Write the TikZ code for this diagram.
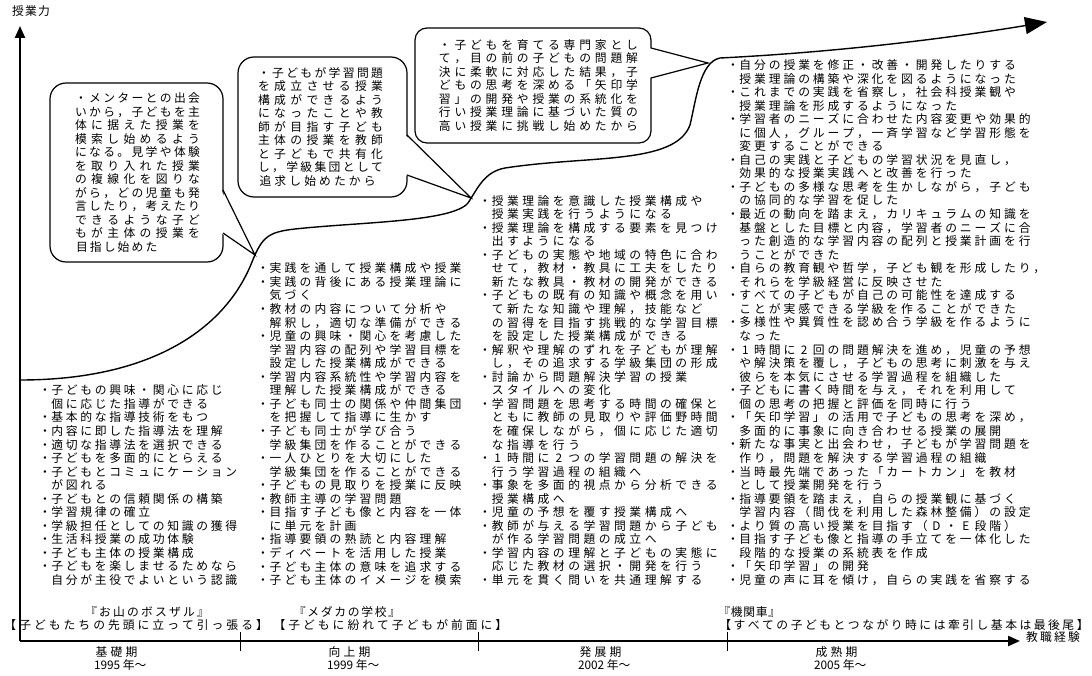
\documentclass[tikz,border=0pt]{standalone}
\usepackage{fontspec}
\newfontfamily\jp{Noto Sans CJK JP}
\usetikzlibrary{arrows.meta}
\newdimen\cw \newdimen\bw
\def\gl#1{\glA#1\relax}
\def\glA#1{\ifx\relax#1\else\hbox to\cw{\hss#1\hss}\expandafter\glA\fi}
\def\dist#1{\hbox to\bw{\distA#1\relax}}
\def\distA#1{#1\distB}
\def\distB#1{\ifx\relax#1\else\hfil#1\expandafter\distB\fi}
\def\jpb{\hbox to10pt{\hss・\hss}}
\def\jpc{\hbox to10pt{}}
\def\jline#1#2{\if b#1\jpb\else\jpc\fi\expandafter\gl\expandafter{#2}}
\def\bline#1#2{\if j#1\expandafter\dist\expandafter{#2}\else\expandafter\gl\expandafter{#2}\fi}
\newcommand\jcol[5]{\foreach \k/\t [count=\i] in {#5}{\node[txt,anchor=base west] (#4\i) at (#1,{#2+13.55*(\i-1)}) {\cw=#3pt\relax\jline{\k}{\t}};}}
\newcommand\bcol[6]{\foreach \k/\t [count=\i] in {#6}{\node[txt,anchor=base west] (#5\i) at (#1,{#2+13.5*(\i-1)}) {\bw=#3pt\cw=#4pt\relax\bline{\k}{\t}};}}
\tikzset{
  txt/.style={inner sep=0pt,outer sep=0pt,font=\jp\fontsize{11.8}{13.5}\selectfont},
  axisline/.style={line width=2.2pt},
  growth/.style={line width=1.4pt},
  bub/.style={draw,line width=1.2pt,fill=white},
  tail/.style={line width=1.2pt,line join=miter},
}
\begin{document}
\begin{tikzpicture}[x=1pt,y=-1pt]
\fill[white] (0,0) rectangle (1092,676);
\useasboundingbox (0,0) rectangle (1092,676);
% axes
\coordinate (O) at (20,641);
\coordinate (Ytop) at (20,26);
\coordinate (Xend) at (1020,641);
\draw[axisline,-{Triangle[width=10pt,length=12pt]}] (O) -- (Ytop);
\draw[axisline,-{Triangle[width=10pt,length=12pt]}] (O) -- (Xend);
\foreach \x in {240,478,727}{\draw[line width=1pt] (\x,632) -- (\x,651);}
\node[txt] (ylab) at (31,11) {\cw=13pt\relax\gl{授業力}};
\node[txt] (xlab) at (1053,637) {\cw=14pt\relax\gl{教職経験}};
% growth curve
\draw[growth,-{Triangle[width=17pt,length=22pt]}] (20,380) .. controls (150,380) and (225,330) .. (252,262)
 .. controls (262,237) and (268,232) .. (295,229)
 .. controls (360,222) and (452,222) .. (468,203)
 .. controls (478,188) and (484,172) .. (505,168)
 .. controls (590,155) and (675,165) .. (690,125)
 .. controls (696,100) and (700,62) .. (720,58)
 .. controls (840,52) and (950,38) .. (1047,22);
% bubble 1
\draw[bub,rounded corners=16pt] (50,83) rectangle (223,262);
\fill[white] (221,190) -- (255,255) -- (221,233) -- cycle;
\draw[tail] (223,190) -- (255,255) -- (223,233);
% bubble 2
\draw[bub,rounded corners=16pt] (238,57) rectangle (407,197);
\fill[white] (405,135) -- (471,198) -- (405,175) -- cycle;
\draw[tail] (407,135) -- (471,198) -- (407,175);
% bubble 3
\draw[bub,rounded corners=12pt] (415,28) rectangle (651,143);
\fill[white] (649,48) -- (708,63) -- (649,78) -- cycle;
\draw[tail] (651,48) -- (708,63) -- (651,78);
% bubble texts
\bcol{75}{103}{125}{13.9}{b1-}{j/・メンターとの出会,%
j/いから，子どもを主,%
j/体に据えた授業を,%
j/模索し始めるよう,%
j/になる。見学や体験,%
j/を取り入れた授業,%
j/の複線化を図りな,%
j/がら，どの児童も発,%
j/言したり，考えたり,%
j/できるような子ど,%
j/もが主体の授業を,%
l/目指し始めた}
\bcol{258}{77.4}{125}{14.9}{b2-}{j/・子どもが学習問題,%
j/を成立させる授業,%
j/構成ができるよう,%
j/になったことや教,%
j/師が目指す子ども,%
j/主体の授業を教師,%
j/と子どもで共有化,%
j/し，学級集団として,%
l/追求し始めたから}
\bcol{437}{49.4}{203}{15.6}{b3-}{l/・子どもを育てる専門家とし,%
l/て，目の前の子どもの問題解,%
l/決に柔軟に対応した結果，子,%
l/どもの思考を深める「矢印学,%
l/習」の開発や授業の系統化を,%
l/行い授業理論に基づいた質の,%
l/高い授業に挑戦し始めたから}
% columns
\jcol{40}{394.8}{14.5}{c1-}{b/子どもの興味・関心に応じ,%
c/個に応じた指導ができる,%
b/基本的な指導技術をもつ,%
b/内容に即した指導法を理解,%
b/適切な指導法を選択できる,%
b/子どもを多面的にとらえる,%
b/子どもとコミュにケーション,%
c/が図れる,%
b/子どもとの信頼関係の構築,%
b/学習規律の確立,%
b/学級担任としての知識の獲得,%
b/生活科授業の成功体験,%
b/子ども主体の授業構成,%
b/子どもを楽しませるためなら,%
c/自分が主役でよいという認識}
\jcol{258}{272.9}{15}{c2-}{b/実践を通して授業構成や授業,%
b/実践の背後にある授業理論に,%
c/気づく,%
b/教材の内容について分析や,%
c/解釈し，適切な準備ができる,%
b/児童の興味・関心を考慮した,%
c/学習内容の配列や学習目標を,%
c/設定した授業構成ができる,%
b/学習内容系統性や学習内容を,%
c/理解した授業構成ができる,%
b/子ども同士の関係や仲間集団,%
c/を把握して指導に生かす,%
b/子ども同士が学び合う,%
c/学級集団を作ることができる,%
b/一人ひとりを大切にした,%
c/学級集団を作ることができる,%
b/子どもの見取りを授業に反映,%
b/教師主導の学習問題,%
b/目指す子ども像と内容を一体,%
c/に単元を計画,%
b/指導要領の熟読と内容理解,%
b/ディベートを活用した授業,%
b/子ども主体の意味を追求する,%
b/子ども主体のイメージを模索}
\jcol{480}{205.1}{15.3}{c3-}{b/授業理論を意識した授業構成や,%
c/授業実践を行うようになる,%
b/授業理論を構成する要素を見つけ,%
c/出すようになる,%
b/子どもの実態や地域の特色に合わ,%
c/せて，教材・教具に工夫をしたり,%
c/新たな教具・教材の開発ができる,%
b/子どもの既有の知識や概念を用い,%
c/て新たな知識や理解，技能など,%
c/の習得を目指す挑戦的な学習目標,%
c/を設定した授業構成ができる,%
b/解釈や理解のずれを子どもが理解,%
c/し，その追求する学級集団の形成,%
b/討論から問題解決学習の授業,%
c/スタイルへの変化,%
b/学習問題を思考する時間の確保と,%
c/ともに教師の見取りや評価野時間,%
c/を確保しながら，個に応じた適切,%
c/な指導を行う,%
b/1時間に2つの学習問題の解決を,%
c/行う学習過程の組織へ,%
b/事象を多面的視点から分析できる,%
c/授業構成へ,%
b/児童の予想を覆す授業構成へ,%
b/教師が与える学習問題から子ども,%
c/が作る学習問題の成立へ,%
b/学習内容の理解と子どもの実態に,%
c/応じた教材の選択・開発を行う,%
b/単元を貫く問いを共通理解する}
\jcol{728}{69.5}{14.7}{c4-}{b/自分の授業を修正・改善・開発したりする,%
c/授業理論の構築や深化を図るようになった,%
b/これまでの実践を省察し，社会科授業観や,%
c/授業理論を形成するようになった,%
b/学習者のニーズに合わせた内容変更や効果的,%
c/に個人，グループ，一斉学習など学習形態を,%
c/変更することができる,%
b/自己の実践と子どもの学習状況を見直し，,%
c/効果的な授業実践へと改善を行った,%
b/子どもの多様な思考を生かしながら，子ども,%
c/の協同的な学習を促した,%
b/最近の動向を踏まえ，カリキュラムの知識を,%
c/基盤とした目標と内容，学習者のニーズに合,%
c/った創造的な学習内容の配列と授業計画を行,%
c/うことができた,%
b/自らの教育観や哲学，子ども観を形成したり，,%
c/それらを学級経営に反映させた,%
b/すべての子どもが自己の可能性を達成する,%
c/ことが実感できる学級を作ることができた,%
b/多様性や異質性を認め合う学級を作るように,%
c/なった,%
b/1時間に2回の問題解決を進め，児童の予想,%
c/や解決策を覆し，子どもの思考に刺激を与え,%
c/彼らを本気にさせる学習過程を組織した,%
b/子どもに書く時間を与え，それを利用して,%
c/個の思考の把握と評価を同時に行う,%
b/「矢印学習」の活用で子どもの思考を深め，,%
c/多面的に事象に向き合わせる授業の展開,%
b/新たな事実と出会わせ，子どもが学習問題を,%
c/作り，問題を解決する学習過程の組織,%
b/当時最先端であった「カートカン」を教材,%
c/として授業開発を行う,%
b/指導要領を踏まえ，自らの授業観に基づく,%
c/学習内容（間伐を利用した森林整備）の設定,%
b/より質の高い授業を目指す（D・E段階）,%
b/目指す子ども像と指導の手立てを一体化した,%
c/段階的な授業の系統表を作成,%
b/「矢印学習」の開発,%
b/児童の声に耳を傾け，自らの実践を省察する}
% bottom labels
\node[txt,anchor=base west] (m1a) at (84,616.4) {\cw=14pt\relax\gl{『お山のボスザル』}};
\node[txt,anchor=base west] (m1b) at (3,629.6) {\cw=14.8pt\relax\gl{【子どもたちの先頭に立って引っ張る】}};
\node[txt,anchor=base west] (m2a) at (293,616.4) {\cw=13.5pt\relax\gl{『メダカの学校』}};
\node[txt,anchor=base west] (m2b) at (272,629.6) {\cw=14.8pt\relax\gl{【子どもに紛れて子どもが前面に】}};
\node[txt,anchor=base west] (m4a) at (718,616.4) {\cw=12.5pt\relax\gl{『機関車』}};
\node[txt,anchor=base west] (m4b) at (718,629.6) {\cw=14.3pt\relax\gl{【すべての子どもとつながり時には牽引し基本は最後尾】}};
% periods
\node[txt,anchor=base west] (p1) at (94,656.4) {\cw=15pt\relax\gl{基礎期}};
\node[txt,anchor=base west] (p1y) at (94,669) {1995 年～};
\node[txt,anchor=base west] (p2) at (327,656.4) {\cw=15pt\relax\gl{向上期}};
\node[txt,anchor=base west] (p2y) at (327,669) {1999 年～};
\node[txt,anchor=base west] (p3) at (578,656.4) {\cw=15pt\relax\gl{発展期}};
\node[txt,anchor=base west] (p3y) at (578,669) {2002 年～};
\node[txt,anchor=base west] (p4) at (814,656.4) {\cw=15pt\relax\gl{成熟期}};
\node[txt,anchor=base west] (p4y) at (814,669) {2005 年～};
\end{tikzpicture}
\end{document}
